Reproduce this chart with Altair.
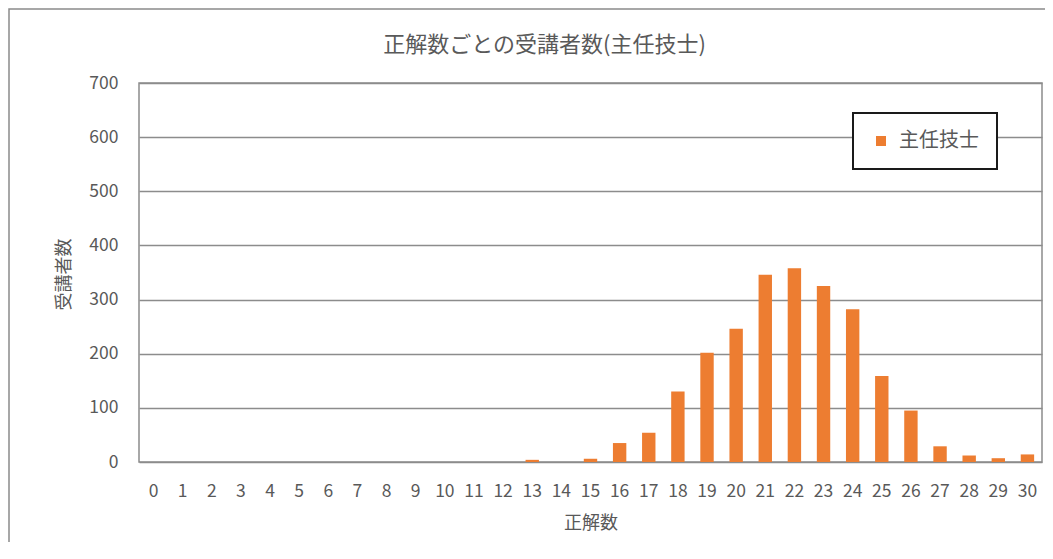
import altair as alt
import pandas as pd

scores = list(range(31))
counts = [0, 0, 0, 0, 0, 0, 0, 0, 0, 0, 0, 0, 0, 4, 0, 6, 35, 54, 130, 202,
          246, 346, 358, 325, 282, 159, 95, 29, 12, 7, 14]
series = ["主任技士"] * 31

title_text = "正解数ごとの受講者数(主任技士)"
x_title = "正解数"
y_title = "受講者数"
y_ticks = [0, 100, 200, 300, 400, 500, 600, 700]

df = pd.DataFrame({"score": scores, "count": counts, "series": series})

FONT = "Noto Sans CJK JP"
TXT = "#595959"
GRID = "#8c8c8c"

bars = alt.Chart(df).mark_bar(color="#ED7D31").encode(
    x=alt.X("score:O", title=x_title,
            scale=alt.Scale(paddingInner=0.54, paddingOuter=0.27),
            axis=alt.Axis(labelAngle=0, ticks=False, tickSize=0, labelPadding=20,
                          labelFontSize=17.5, labelColor=TXT, domain=False,
                          titleFontSize=18, titleColor=TXT, titleFontWeight="normal",
                          titleY=61, titleBaseline="middle")),
    y=alt.Y("count:Q", title=y_title,
            scale=alt.Scale(domain=[0, 700], nice=False),
            axis=alt.Axis(values=y_ticks, ticks=False, tickSize=0, labelPadding=21,
                          labelFontSize=17.5, labelColor=TXT, domain=False,
                          grid=True, gridColor=GRID, gridWidth=1.5,
                          titleFontSize=18, titleColor=TXT, titleFontWeight="normal",
                          titleX=-75, titleY=191, titleAngle=-90,
                          titleAlign="center", titleBaseline="middle")),
    color=alt.Color("series:N",
                    scale=alt.Scale(range=["#ED7D31"]),
                    legend=alt.Legend(title=None, orient="none", legendX=714, legendY=30,
                                      symbolType="square", symbolSize=100,
                                      symbolStrokeWidth=0, labelFontSize=20,
                                      labelColor=TXT, labelOffset=8, padding=18,
                                      strokeColor="#1a1a1a", fillColor="white")),
)

frame = alt.Chart(alt.Data(values=[{"k": 1}])).mark_rect(
    fill=None, stroke="#8a8a8a", strokeWidth=1.5
).encode(
    x=alt.value(-130), x2=alt.value(930),
    y=alt.value(-74), y2=alt.value(520),
)

chart = alt.layer(frame, bars).properties(
    width=903, height=379,
    title=alt.TitleParams(title_text, fontSize=22, color=TXT, fontWeight="normal",
                          anchor="middle", dx=-46, dy=59, offset=0,
                          baseline="middle", font=FONT),
    padding={"left": 131, "top": 75, "right": 3, "bottom": 80},
    autosize=alt.AutoSizeParams(type="none"),
).configure(font=FONT).configure_view(
    stroke=GRID, strokeWidth=1.5
).configure_legend(strokeWidth=2)

chart.save("out.html", embed_options={"renderer": "svg", "actions": False})
